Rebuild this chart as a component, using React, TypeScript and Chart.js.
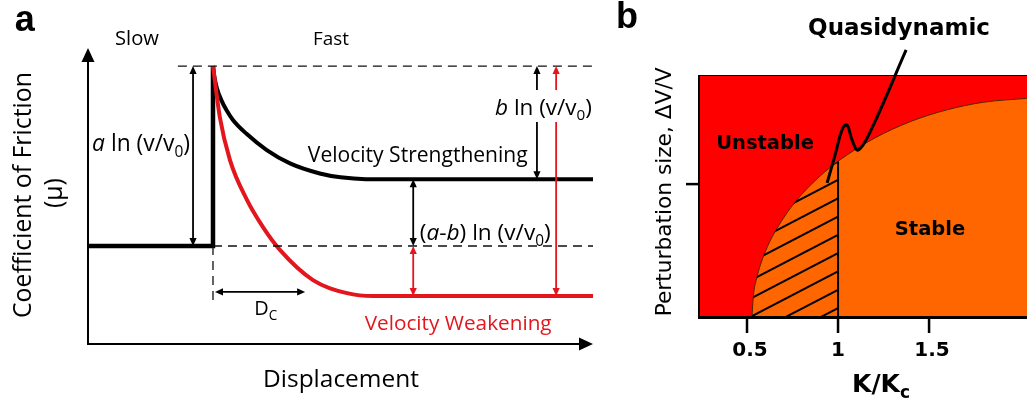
import React, { useEffect, useRef } from "react";
import { Chart, registerables } from "chart.js";
Chart.register(...registerables);

// ---------------- Panel a data (arbitrary units 0-100) ----------------
const stepX = [0, 24.75, 24.75];
const stepY = [33.1, 33.1, 93.9];
const strengtheningX = [24.75, 25.0, 25.5, 26.4, 27.5, 28.7, 31.4, 35.4, 40.0, 45.9, 50.0, 55.0, 100];
const strengtheningY = [93.9, 90.5, 86.6, 82.4, 78.8, 75.7, 71.0, 65.5, 61.0, 57.6, 56.3, 55.7, 55.7];
const weakeningX = [24.75, 26.1, 28.1, 31.5, 34.65, 38.0, 44.55, 51.3, 56.4, 100];
const weakeningY = [93.9, 76.7, 62.2, 48.6, 39.5, 31.8, 21.6, 17.2, 16.2, 16.2];

const peakLevel = 93.9;
const slowLevel = 33.1;
const strongLevel = 55.7;
const weakLevel = 16.2;
const jumpX = 24.75;
const topDashStart = 17.8;
const aArrowX = 20.8;
const bArrowX = 88.9;
const bRedArrowX = 92.7;
const abArrowX = 64.4;
const labelGap = [75.0, 85.8];
const dcLevel = 17.6;
const dcEnd = 43.0;
const dashBottom = 14.9;

// ---------------- Panel b data ----------------
const boundaryK = [0.527, 0.535, 0.55, 0.6, 0.7, 0.8, 0.9, 1.0, 1.2, 1.4, 1.6, 1.8, 2.04];
const boundaryDV = [0, 0.091, 0.154, 0.272, 0.411, 0.508, 0.583, 0.645, 0.74, 0.809, 0.857, 0.888, 0.904];
const quasiK = [1.374, 1.176, 1.11, 1.077, 1.049, 1.022, 0.984, 0.94];
const quasiDV = [1.103, 0.765, 0.691, 0.733, 0.794, 0.774, 0.671, 0.556];
const criticalK = 1;
const criticalDV = 0.645;
const xTicks = [0.5, 1, 1.5];
const xTickLabels = ["0.5", "1", "1.5"];
const yTicks = [0.551];

const RED_A = "#e3161e";
const RED_B = "#ff0000";
const ORANGE_B = "#ff6600";
const FONT_A = '"Open Sans", "Liberation Sans", sans-serif';
const FONT_B = '"DejaVu Sans", "Liberation Sans", sans-serif';
const FONT_L = '"Liberation Sans", Arial, sans-serif';

type Seg = { t: string; i?: boolean; sub?: boolean };
type RichOpts = {
  size?: number;
  width?: number;
  weight?: string;
  family: string;
  align?: "left" | "center" | "right";
  color?: string;
  rotate?: number;
};

function fontOf(s: Seg, size: number, weight: string, family: string) {
  return `${s.i ? "italic " : ""}${weight} ${s.sub ? size * 0.68 : size}px ${family}`;
}
function richWidth(ctx: CanvasRenderingContext2D, segs: Seg[], size: number, weight: string, family: string) {
  let w = 0;
  for (const s of segs) {
    ctx.font = fontOf(s, size, weight, family);
    w += ctx.measureText(s.t).width;
  }
  return w;
}
function drawRich(ctx: CanvasRenderingContext2D, segs: Seg[], x: number, y: number, o: RichOpts) {
  const weight = o.weight || "normal";
  let size = o.size || 20;
  if (o.width) {
    const w0 = richWidth(ctx, segs, size, weight, o.family);
    size = (size * o.width) / w0;
  }
  const W = richWidth(ctx, segs, size, weight, o.family);
  ctx.save();
  ctx.translate(x, y);
  if (o.rotate) ctx.rotate(o.rotate);
  let cx = o.align === "left" ? 0 : o.align === "right" ? -W : -W / 2;
  ctx.fillStyle = o.color || "#000";
  ctx.textBaseline = "alphabetic";
  ctx.textAlign = "left";
  const base = size * 0.36;
  for (const s of segs) {
    ctx.font = fontOf(s, size, weight, o.family);
    ctx.fillText(s.t, cx, s.sub ? base + size * 0.24 : base);
    cx += ctx.measureText(s.t).width;
  }
  ctx.restore();
  return size;
}

function head(ctx: CanvasRenderingContext2D, tx: number, ty: number, dx: number, dy: number, len: number, half: number) {
  const bx = tx - dx * len;
  const by = ty - dy * len;
  ctx.beginPath();
  ctx.moveTo(tx, ty);
  ctx.lineTo(bx - dy * half, by + dx * half);
  ctx.lineTo(bx + dy * half, by - dx * half);
  ctx.closePath();
  ctx.fill();
}
function seg(ctx: CanvasRenderingContext2D, x1: number, y1: number, x2: number, y2: number) {
  ctx.beginPath();
  ctx.moveTo(x1, y1);
  ctx.lineTo(x2, y2);
  ctx.stroke();
}
function dArrow(
  ctx: CanvasRenderingContext2D,
  x1: number, y1: number, x2: number, y2: number,
  color: string, gap?: [number, number]
) {
  const len = 8, half = 3.6;
  const L = Math.hypot(x2 - x1, y2 - y1);
  const dx = (x2 - x1) / L, dy = (y2 - y1) / L;
  ctx.strokeStyle = color;
  ctx.fillStyle = color;
  ctx.lineWidth = 1.8;
  const sx = x1 + dx * (len - 1), sy = y1 + dy * (len - 1);
  const ex = x2 - dx * (len - 1), ey = y2 - dy * (len - 1);
  if (gap) {
    const gTop = Math.min(gap[0], gap[1]);
    const gBot = Math.max(gap[0], gap[1]);
    seg(ctx, sx, sy, sx, gTop);
    seg(ctx, ex, gBot, ex, ey);
  } else {
    seg(ctx, sx, sy, ex, ey);
  }
  head(ctx, x1, y1, -dx, -dy, len, half);
  head(ctx, x2, y2, dx, dy, len, half);
}

const panelAPlugin = {
  id: "panelA",
  afterDraw(chart: any) {
    const { ctx, chartArea: ca } = chart;
    const X = (v: number) => chart.scales.x.getPixelForValue(v);
    const Y = (v: number) => chart.scales.y.getPixelForValue(v);
    ctx.save();
    ctx.strokeStyle = "#000";
    ctx.fillStyle = "#000";
    ctx.lineWidth = 2;
    seg(ctx, X(0), Y(0) + 1, X(0), ca.top + 12);
    head(ctx, X(0), ca.top, 0, -1, 14, 6.5);
    seg(ctx, X(0) - 1, Y(0), ca.right - 12, Y(0));
    head(ctx, ca.right, Y(0), 1, 0, 14, 6.5);

    ctx.strokeStyle = "#111";
    ctx.lineWidth = 1.3;
    ctx.setLineDash([9, 6]);
    seg(ctx, X(topDashStart), Y(peakLevel), X(100), Y(peakLevel));
    seg(ctx, X(jumpX), Y(slowLevel), X(100), Y(slowLevel));
    seg(ctx, X(jumpX), Y(slowLevel), X(jumpX), Y(dashBottom));
    ctx.setLineDash([]);

    dArrow(ctx, X(aArrowX), Y(peakLevel), X(aArrowX), Y(slowLevel), "#000");
    dArrow(ctx, X(bArrowX), Y(peakLevel), X(bArrowX), Y(strongLevel), "#000", [Y(labelGap[1]), Y(labelGap[0])]);
    dArrow(ctx, X(bRedArrowX), Y(peakLevel), X(bRedArrowX), Y(weakLevel), RED_A, [Y(labelGap[1]), Y(labelGap[0])]);
    dArrow(ctx, X(abArrowX), Y(strongLevel), X(abArrowX), Y(slowLevel), "#000");
    dArrow(ctx, X(abArrowX), Y(slowLevel), X(abArrowX), Y(weakLevel), RED_A);
    dArrow(ctx, X(jumpX + 0.4), Y(dcLevel), X(dcEnd), Y(dcLevel), "#000");

    drawRich(ctx, [{ t: "a" }], X(-12.5), Y(110.1), { family: FONT_L, weight: "bold", size: 36 });
    drawRich(ctx, [{ t: "Slow" }], X(9.7), Y(103.4), { family: FONT_A, width: 44 });
    drawRich(ctx, [{ t: "Fast" }], X(48.1), Y(103.4), { family: FONT_A, width: 36 });
    drawRich(ctx, [{ t: "a", i: true }, { t: " ln (v/v" }, { t: "0", sub: true }, { t: ")" }], X(20.2), Y(67.9), {
      family: FONT_A, width: 98, align: "right",
    });
    drawRich(ctx, [{ t: "b", i: true }, { t: " ln (v/v" }, { t: "0", sub: true }, { t: ")" }], X(90.2), Y(80.1), {
      family: FONT_A, width: 97,
    });
    drawRich(ctx, [{ t: "Velocity Strengthening" }], X(65.3), Y(63.9), { family: FONT_A, width: 220 });
    drawRich(
      ctx,
      [{ t: "(" }, { t: "a", i: true }, { t: "-" }, { t: "b", i: true }, { t: ") ln (v/v" }, { t: "0", sub: true }, { t: ")" }],
      X(65.7), Y(37.8), { family: FONT_A, width: 131, align: "left" }
    );
    drawRich(ctx, [{ t: "Velocity Weakening" }], X(73.3), Y(7.1), { family: FONT_A, width: 187, color: RED_A });
    drawRich(ctx, [{ t: "D" }, { t: "C", sub: true }], X(35.2), Y(12.2), { family: FONT_A, width: 23 });
    drawRich(ctx, [{ t: "Displacement" }], X(50.1), Y(-11.5), { family: FONT_A, width: 156 });
    const ys = drawRich(ctx, [{ t: "Coefficient of Friction" }], X(-13.1), Y(50.3), {
      family: FONT_A, width: 246, rotate: -Math.PI / 2,
    });
    drawRich(ctx, [{ t: "(μ)" }], X(-6.9), Y(51), { family: FONT_A, size: ys, rotate: -Math.PI / 2 });
    ctx.restore();
  },
};

const panelBPlugin = {
  id: "panelB",
  beforeDatasetsDraw(chart: any) {
    const { ctx, chartArea: ca } = chart;
    ctx.save();
    ctx.fillStyle = RED_B;
    ctx.fillRect(ca.left, ca.top, ca.right - ca.left, ca.bottom - ca.top);
    ctx.restore();
  },
  afterDatasetsDraw(chart: any) {
    const { ctx, chartArea: ca } = chart;
    const X = (v: number) => chart.scales.x.getPixelForValue(v);
    const Y = (v: number) => chart.scales.y.getPixelForValue(v);
    const meta = chart.getDatasetMeta(0);
    const pts = meta.data;
    ctx.save();
    ctx.beginPath();
    ctx.rect(ca.left, ca.top, X(criticalK) - ca.left, ca.bottom - ca.top);
    ctx.clip();
    let ok = false;
    try {
      ctx.beginPath();
      meta.dataset.path(ctx);
      ok = true;
    } catch (e) {
      ok = false;
    }
    if (!ok) {
      ctx.beginPath();
      pts.forEach((p: any, i: number) => (i ? ctx.lineTo(p.x, p.y) : ctx.moveTo(p.x, p.y)));
    }
    ctx.lineTo(pts[pts.length - 1].x, ca.bottom);
    ctx.lineTo(pts[0].x, ca.bottom);
    ctx.closePath();
    ctx.clip();
    ctx.strokeStyle = "#000";
    ctx.lineWidth = 2;
    const x0 = X(criticalK);
    const y0 = Y(0.568);
    for (let k = -2; k < 14; k++) {
      const yy = y0 + k * 18.3;
      seg(ctx, x0 + 40, yy - 40 * 0.52, x0 - 300, yy + 300 * 0.52);
    }
    ctx.restore();

    ctx.save();
    ctx.strokeStyle = "#000";
    ctx.lineWidth = 1;
    ctx.strokeRect(ca.left + 0.5, ca.top + 0.5, ca.right - ca.left, ca.bottom - ca.top);
    ctx.lineWidth = 2;
    seg(ctx, ca.left + 1, ca.top, ca.left + 1, ca.bottom);
    ctx.lineWidth = 3;
    seg(ctx, ca.left, ca.bottom - 0.5, ca.right, ca.bottom - 0.5);
    ctx.restore();
  },
  afterDraw(chart: any) {
    const { ctx, chartArea: ca } = chart;
    const X = (v: number) => chart.scales.x.getPixelForValue(v);
    const Y = (v: number) => chart.scales.y.getPixelForValue(v);
    ctx.save();
    ctx.strokeStyle = "#000";
    ctx.lineWidth = 2.5;
    xTicks.forEach((t, i) => {
      seg(ctx, X(t), ca.bottom, X(t), ca.bottom + 15);
      drawRich(ctx, [{ t: xTickLabels[i] }], X(t) + (i === 1 ? 0 : 3), Y(-0.128), {
        family: FONT_B, weight: "bold", size: 20,
      });
    });
    yTicks.forEach((t) => seg(ctx, ca.left - 12, Y(t), ca.left, Y(t)));
    drawRich(ctx, [{ t: "K/K" }, { t: "c", sub: true }], X(1.236), Y(-0.267), { family: FONT_B, weight: "bold", width: 58 });
    drawRich(ctx, [{ t: "Perturbation size, ΔV/V" }], X(0.0385), Y(0.519), {
      family: FONT_B, width: 249, rotate: -Math.PI / 2,
    });
    drawRich(ctx, [{ t: "Quasidynamic" }], X(1.335), Y(1.198), { family: FONT_B, weight: "bold", width: 182 });
    drawRich(ctx, [{ t: "Unstable" }], X(0.599), Y(0.724), { family: FONT_B, weight: "bold", size: 19.5 });
    drawRich(ctx, [{ t: "Stable" }], X(1.505), Y(0.37), { family: FONT_B, weight: "bold", size: 19.5 });
    drawRich(ctx, [{ t: "b" }], X(-0.159), Y(1.247), { family: FONT_L, weight: "bold", size: 36 });
    ctx.restore();
  },
};

const pts = (xs: number[], ys: number[]) => xs.map((x, i) => ({ x, y: ys[i] }));

export default function App() {
  const refA = useRef<HTMLCanvasElement>(null);
  const refB = useRef<HTMLCanvasElement>(null);

  useEffect(() => {
    const common = {
      responsive: false,
      animation: false as const,
      events: [] as any[],
      plugins: { legend: { display: false }, tooltip: { enabled: false } },
      elements: { point: { radius: 0 } },
    };
    const chartA = new Chart(refA.current!, {
      type: "line",
      data: {
        datasets: [
          {
            data: pts(weakeningX, weakeningY),
            borderColor: RED_A, borderWidth: 4, cubicInterpolationMode: "monotone", pointRadius: 0,
          },
          {
            data: pts(strengtheningX, strengtheningY),
            borderColor: "#000", borderWidth: 4, cubicInterpolationMode: "monotone", pointRadius: 0,
          },
          {
            data: pts(stepX, stepY),
            borderColor: "#000", borderWidth: 4.5, tension: 0, pointRadius: 0, borderJoinStyle: "miter",
          },
        ],
      },
      options: {
        ...common,
        layout: { padding: { left: 88, right: 17, top: 48, bottom: 59 } },
        scales: {
          x: { type: "linear", display: false, min: 0, max: 100 },
          y: { type: "linear", display: false, min: 0, max: 100 },
        },
      } as any,
      plugins: [panelAPlugin],
    });
    const chartB = new Chart(refB.current!, {
      type: "line",
      data: {
        datasets: [
          {
            data: pts(boundaryK, boundaryDV),
            borderColor: "#5a2200", borderWidth: 1, backgroundColor: ORANGE_B, fill: "origin",
            cubicInterpolationMode: "monotone", pointRadius: 0, order: 3,
          },
          {
            data: pts([criticalK, criticalK], [0, criticalDV]),
            borderColor: "#000", borderWidth: 2, pointRadius: 0, order: 2,
          },
          {
            data: pts(quasiK, quasiDV),
            borderColor: "#000", borderWidth: 3, tension: 0.4, pointRadius: 0, clip: false, order: 1,
          },
        ],
      },
      options: {
        ...common,
        layout: { padding: { left: 88, right: 0, top: 75, bottom: 85 } },
        scales: {
          x: { type: "linear", display: false, min: 0.2308, max: 2.038 },
          y: { type: "linear", display: false, min: 0, max: 1 },
        },
      } as any,
      plugins: [panelBPlugin],
    });
    return () => {
      chartA.destroy();
      chartB.destroy();
    };
  }, []);

  return (
    <div style={{ position: "fixed", left: 0, top: 0, width: 1027, height: 403, background: "#fff" }}>
      <canvas ref={refA} width={610} height={403} style={{ position: "absolute", left: 0, top: 0, width: 610, height: 403 }} />
      <canvas ref={refB} width={417} height={403} style={{ position: "absolute", left: 610, top: 0, width: 417, height: 403 }} />
    </div>
  );
}
